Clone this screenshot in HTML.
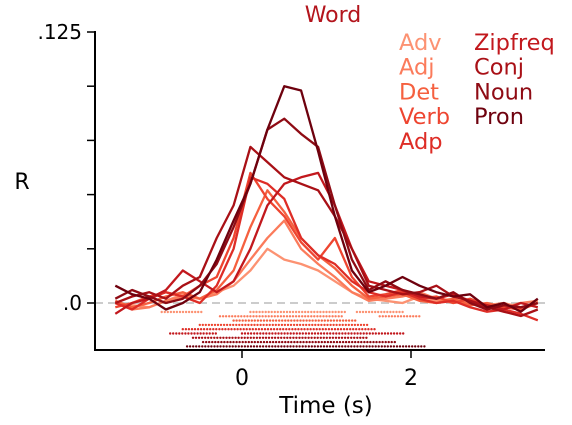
<!DOCTYPE html>
<html><head><meta charset="utf-8"><style>
body{margin:0;background:#fff}
svg{display:block;font-family:"DejaVu Sans","Liberation Sans",sans-serif}
</style></head><body>
<svg id="chart" width="572" height="425" viewBox="0 0 572 425" xmlns="http://www.w3.org/2000/svg">
<text x="333" y="22" font-size="22" fill="#b3141c" text-anchor="middle">Word</text>
<line x1="95" x2="545" y1="303" y2="303" stroke="#cccccc" stroke-width="2" stroke-dasharray="8,5"/>
<g id="lines"></g>
<g id="sig"></g>
<line x1="95" x2="95" y1="31" y2="351" stroke="#000" stroke-width="2"/>
<line x1="94" x2="545" y1="350" y2="350" stroke="#000" stroke-width="2"/>
<g id="yticks"></g>
<g id="xticks"></g>
<text x="22" y="189" font-size="22" text-anchor="middle">R</text>
<text x="326" y="413" font-size="23" text-anchor="middle">Time (s)</text>
<g id="legend"></g>
</svg>
<script>
const times=[-1.5,-1.3,-1.1,-0.9,-0.7,-0.5,-0.3,-0.1,0.1,0.3,0.5,0.7,0.9,1.1,1.3,1.5,1.7,1.9,2.1,2.3,2.5,2.7,2.9,3.1,3.3,3.5];
const seriesNames=["Adv","Adj","Det","Verb","Adp","Zipfreq","Conj","Noun","Pron"];
const colors=["#fc9272","#fb7b5b","#f5603f","#ee4530","#de2d26","#c2181d","#a91016","#8f0b14","#6e010e"];
const adv=[0,-1,-2,1,4,2,5,8,15,25,20,18,15,10,5,2,1,0,3,1,2,0,-1,0,-2,0];
const adj=[0,-3,-2,1,3,2,4,10,20,30,38,25,18,12,5,1,2,3,5,2,0,1,-1,-2,0,1];
const det=[1,-2,0,3,5,2,6,15,35,52,42,30,22,16,8,2,3,4,1,0,2,-1,0,-2,-3,0];
const verb=[-2,0,3,5,3,8,12,30,60,48,40,28,20,30,12,3,4,6,2,3,0,2,-1,-2,-3,0];
const adp=[0,-3,2,5,3,0,8,25,58,55,48,30,22,18,10,5,3,5,2,0,1,-2,-4,-3,-5,-8];
const zipfreq=[-5,0,2,6,15,10,5,10,25,45,55,58,60,45,25,10,8,6,3,2,4,1,-1,-3,0,-2];
const conj=[0,3,5,2,8,12,30,45,72,65,58,55,52,40,25,8,6,4,5,8,3,1,-2,-4,-6,-3];
const noun=[2,6,3,0,2,8,18,35,55,80,85,78,72,45,20,6,10,6,4,2,5,0,-3,-1,-2,0];
const pron=[8,4,2,-3,0,5,20,38,55,80,100,98,70,40,15,5,8,12,8,5,3,4,-2,0,-4,2];
const allSeries=[adv,adj,det,verb,adp,zipfreq,conj,noun,pron];
const sigIntervals=[[[-0.95,-0.47],[0.1,1.22],[1.36,1.9]],[[-0.26,1.18],[1.63,2.13]],[[-0.1,1.36]],[[-0.5,1.48]],[[-0.7,1.57]],[[-0.85,-0.28],[0,1.93]],[[-0.58,1.48]],[[-0.46,1.81]],[[-0.65,2.17]]];
const yTickVals=[0,0.025,0.05,0.075,0.1,0.125];
const yTickLabels={"0":".0","0.125":".125"};
const xTickVals=[0,2];

const X=t=>242+t*84.5;
const Y=v=>303-v*2168;
const NS="http://www.w3.org/2000/svg";
function mk(tag,attrs,parent){const e=document.createElementNS(NS,tag);for(const k in attrs)e.setAttribute(k,attrs[k]);parent.appendChild(e);return e;}

const lg=document.getElementById('lines');
allSeries.forEach((s,i)=>{
  const d=s.map((v,j)=>(j?'L':'M')+X(times[j]).toFixed(1)+','+Y(v/1000).toFixed(1)).join('');
  const p=mk('path',{d:d,fill:'none',stroke:colors[i],'stroke-width':2.3,'stroke-linejoin':'round'},lg);
  
  
});
const sg=document.getElementById('sig');
sigIntervals.forEach((ivs,i)=>{
  const y=312+i*4.3;
  ivs.forEach(iv=>{
    for(let t=iv[0];t<=iv[1]+1e-6;t+=0.036){
      const c=mk('circle',{cx:X(t).toFixed(1),cy:y.toFixed(1),r:1.2,fill:colors[i]},sg);
      
      
    }
  });
});
const yt=document.getElementById('yticks');
yTickVals.forEach(v=>{
  const l=mk('line',{x1:87,x2:95,y1:Y(v),y2:Y(v),stroke:'#000','stroke-width':1.5},yt);
  
  
  const lab=yTickLabels[String(v)];
  if(lab){const t=mk('text',{x:82,y:Y(v)+7,'font-size':20,'text-anchor':'end'},yt);t.textContent=lab;
    
    }
});
const xt=document.getElementById('xticks');
xTickVals.forEach(v=>{
  const l=mk('line',{x1:X(v),x2:X(v),y1:350,y2:358,stroke:'#000','stroke-width':1.5},xt);
  
  
  const t=mk('text',{x:X(v),y:385,'font-size':22,'text-anchor':'middle'},xt);t.textContent=String(v);
  
  
});
const lgd=document.getElementById('legend');
seriesNames.forEach((n,i)=>{
  const col=i<5?0:1,row=i<5?i:i-5;
  const t=mk('text',{x:col?474:399,y:50+row*24.7,'font-size':22.5,fill:colors[i]},lgd);
  t.textContent=n;
  
  
});
</script>
</body></html>
